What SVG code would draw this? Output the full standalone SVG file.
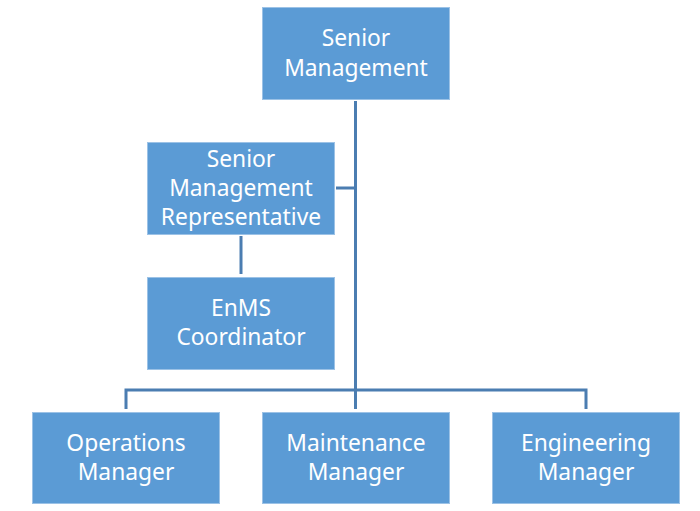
<svg xmlns="http://www.w3.org/2000/svg" width="700" height="511" viewBox="0 0 700 511">
<style>
.box{fill:#5B9BD5;stroke:#9CC2E6;stroke-width:1}
.lbl{font-family:"Noto Sans","Open Sans",sans-serif;font-size:22.8px;fill:#FFFFFF;text-anchor:middle}
.ln{fill:none;stroke:#4B7DB1;stroke-width:3}
</style>
<rect width="700" height="511" fill="#FFFFFF"/>
<g id="connectors">
<path class="ln" d="M355.5,101 V390"/>
<path class="ln" d="M336,188 H355.5"/>
<path class="ln" d="M241,236 V274"/>
<path class="ln" d="M126,409 V390 H586 V409"/>
<path class="ln" d="M355.5,390 V409"/>
</g>
<g id="senior-management">
<rect class="box" x="262.5" y="7.5" width="187" height="92"/>
<text class="lbl" x="356" y="46">Senior</text>
<text class="lbl" x="356" y="76">Management</text>
</g>
<g id="smr">
<rect class="box" x="147.5" y="142.5" width="187" height="92"/>
<text class="lbl" x="241" y="167">Senior</text>
<text class="lbl" x="241" y="196">Management</text>
<text class="lbl" x="241" y="225">Representative</text>
</g>
<g id="enms">
<rect class="box" x="147.5" y="277.5" width="187" height="92"/>
<text class="lbl" x="241" y="316">EnMS</text>
<text class="lbl" x="241" y="345">Coordinator</text>
</g>
<g id="operations">
<rect class="box" x="32.5" y="412.5" width="187" height="91"/>
<text class="lbl" x="126" y="451">Operations</text>
<text class="lbl" x="126" y="480">Manager</text>
</g>
<g id="maintenance">
<rect class="box" x="262.5" y="412.5" width="187" height="91"/>
<text class="lbl" x="356" y="451">Maintenance</text>
<text class="lbl" x="356" y="480">Manager</text>
</g>
<g id="engineering">
<rect class="box" x="492.5" y="412.5" width="187" height="91"/>
<text class="lbl" x="586" y="451">Engineering</text>
<text class="lbl" x="586" y="480">Manager</text>
</g>
</svg>
